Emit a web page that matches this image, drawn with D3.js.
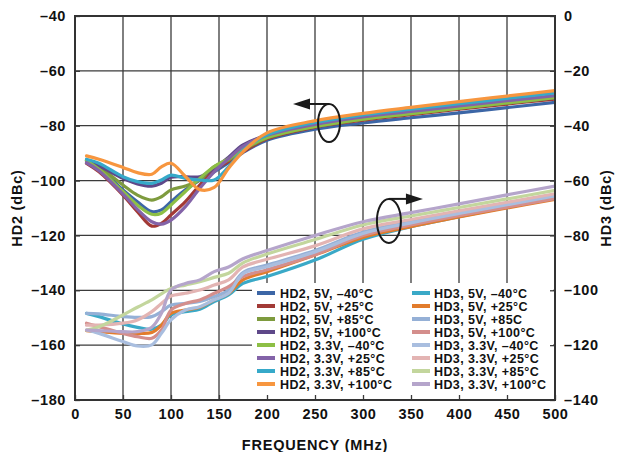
<!DOCTYPE html>
<html><head><meta charset="utf-8">
<script src="https://cdn.jsdelivr.net/npm/d3@7"></script>
<style>
html,body{margin:0;padding:0;background:#fff;}
text{font-family:"Liberation Sans",Arial,Helvetica,sans-serif;font-weight:bold;fill:#111;}
</style></head>
<body><svg id="c" width="619" height="452"></svg>
<script>
// ---------------- DATA ----------------
const freq = [12, 25, 50, 65, 80, 90, 100, 115, 130, 145, 160, 175, 200, 250, 300, 350, 400, 450, 500];

// HD2 (left axis, dBc)
const hd2_5v_m40   = [-92.7, -95.5, -103.4, -107.7, -111.3, -110.7, -107.7, -103.4, -99.8, -96.8, -93.5, -89.8, -85.3, -81.3, -79.0, -77.1, -75.3, -73.4, -71.5];
const hd2_5v_p25   = [-93.7, -96.8, -105.3, -111.3, -116.6, -115.6, -112.5, -107.7, -101.6, -96.1, -93.0, -89.5, -84.8, -80.5, -78.0, -76.0, -74.0, -72.1, -70.3];
const hd2_5v_p85   = [-92.5, -94.9, -101.6, -105.3, -107.1, -105.9, -103.4, -102.0, -99.8, -94.9, -92.5, -89.0, -84.5, -80.3, -77.6, -75.6, -73.6, -71.7, -69.8];
const hd2_5v_p100  = [-93.1, -94.7, -99.2, -101.2, -102.0, -101.0, -98.8, -98.6, -98.6, -95.5, -91.5, -87.0, -83.5, -80.0, -77.4, -75.4, -73.4, -71.6, -69.8];
const hd2_33_m40   = [-92.7, -95.9, -104.0, -108.9, -112.3, -111.9, -108.9, -104.0, -99.2, -94.9, -92.0, -88.5, -84.3, -80.3, -77.6, -75.6, -73.6, -71.7, -69.8];
const hd2_33_p25   = [-93.5, -96.4, -104.9, -110.5, -115.0, -115.9, -114.4, -109.5, -102.8, -96.8, -92.0, -87.5, -83.5, -79.5, -76.8, -74.8, -72.8, -70.9, -69.0];
const hd2_33_p85   = [-92.2, -93.7, -98.6, -100.4, -101.0, -99.8, -98.0, -99.2, -99.8, -99.8, -95.0, -89.0, -83.3, -78.8, -76.1, -74.0, -72.0, -70.0, -68.0];
const hd2_33_p100  = [-91.0, -92.2, -95.2, -97.1, -97.7, -95.0, -93.7, -98.5, -103.3, -102.5, -95.5, -89.5, -82.6, -78.2, -75.5, -73.3, -71.2, -69.2, -67.2];

// HD3 (right axis, dBc)
const hd3_5v_m40   = [-108.4, -109.6, -112.3, -113.5, -114.2, -112.7, -109.0, -107.8, -106.9, -104.1, -101.7, -97.5, -95.0, -89.0, -81.4, -76.8, -73.2, -69.7, -66.3];
const hd3_5v_p25   = [-114.7, -115.1, -115.7, -115.7, -115.4, -112.7, -108.4, -107.2, -106.2, -103.5, -101.1, -96.2, -93.2, -87.1, -80.7, -76.8, -73.3, -70.0, -66.9];
const hd3_5v_p85   = [-108.4, -108.6, -109.6, -109.9, -109.6, -107.8, -105.4, -104.8, -104.1, -102.3, -99.9, -93.5, -90.8, -85.5, -78.8, -75.0, -71.7, -68.5, -65.3];
const hd3_5v_p100  = [-112.0, -113.3, -115.7, -116.9, -117.5, -114.5, -107.2, -104.8, -103.5, -101.1, -98.7, -95.0, -92.5, -87.0, -80.0, -76.2, -72.8, -69.7, -66.6];
const hd3_33_m40   = [-114.5, -115.7, -118.7, -120.3, -119.9, -115.7, -110.8, -107.2, -106.0, -103.5, -101.1, -94.0, -91.4, -86.0, -79.3, -75.4, -72.0, -68.8, -65.6];
const hd3_33_p25   = [-112.7, -112.7, -112.0, -110.8, -107.8, -104.8, -102.1, -101.1, -99.9, -98.1, -96.2, -91.5, -88.7, -83.8, -77.6, -74.2, -71.0, -67.9, -64.8];
const hd3_33_p85   = [-114.5, -113.3, -109.0, -106.2, -103.5, -101.3, -99.3, -98.1, -96.9, -95.3, -93.8, -90.0, -86.8, -81.5, -76.2, -72.9, -69.8, -66.7, -63.6];
const hd3_33_p100  = [-114.5, -114.7, -115.1, -115.1, -113.5, -108.4, -99.9, -97.5, -96.2, -93.2, -91.5, -88.5, -85.5, -80.0, -75.0, -71.7, -68.5, -65.2, -62.0];

const hd2Labels = ["HD2, 5V, \u201340\u00b0C","HD2, 5V, +25\u00b0C","HD2, 5V, +85\u00b0C","HD2, 5V, +100\u00b0C",
                   "HD2, 3.3V, \u201340\u00b0C","HD2, 3.3V, +25\u00b0C","HD2, 3.3V, +85\u00b0C","HD2, 3.3V, +100\u00b0C"];
const hd3Labels = ["HD3, 5V, \u201340\u00b0C","HD3, 5V, +25\u00b0C","HD3, 5V, +85C","HD3, 5V, +100\u00b0C",
                   "HD3, 3.3V, \u201340\u00b0C","HD3, 3.3V, +25\u00b0C","HD3, 3.3V, +85\u00b0C","HD3, 3.3V, +100\u00b0C"];
const hd2Colors = ["#3c66a6","#a23a36","#7e9b3e","#5e4889","#8dbf45","#8363a8","#36a9c9","#f7963f"];
const hd3Colors = ["#3aa9c7","#e27c2c","#95b0d6","#d48e8c","#a9bedf","#e3b4b3","#c3d69d","#b5a5cb"];

const xTicks  = [0,50,100,150,200,250,300,350,400,450,500];
const yLTicks = [-180,-160,-140,-120,-100,-80,-60,-40];
const yRTicks = [-140,-120,-100,-80,-60,-40,-20,0];
const xTitle = "FREQUENCY (MHz)", yLTitle = "HD2 (dBc)", yRTitle = "HD3 (dBc)";
// annotation anchors (data units)
const hd2Note = {f:264.6, v:-79.0};
const hd3Note = {f:327,   v:-74.7};

// ---------------- DRAW ----------------
const hd2 = [hd2_5v_m40,hd2_5v_p25,hd2_5v_p85,hd2_5v_p100,hd2_33_m40,hd2_33_p25,hd2_33_p85,hd2_33_p100];
const hd3 = [hd3_5v_m40,hd3_5v_p25,hd3_5v_p85,hd3_5v_p100,hd3_33_m40,hd3_33_p25,hd3_33_p85,hd3_33_p100];

const L=75,R=555,T=16,B=400;
const svg = d3.select("#c");
const x  = d3.scaleLinear().domain([0,500]).range([L,R]);
const yL = d3.scaleLinear().domain([-180,-40]).range([B,T]);
const yR = d3.scaleLinear().domain([-140,0]).range([B,T]);
const fmt = d => String(d).replace("-","\u2013");

// grid
const grid = svg.append("g").attr("stroke","#3b3b3b").attr("stroke-width",1.3);
grid.selectAll("line.v").data(xTicks.slice(1,-1)).join("line")
  .attr("x1",d=>x(d)).attr("x2",d=>x(d)).attr("y1",T).attr("y2",B);
grid.selectAll("line.h").data(yLTicks.slice(1,-1)).join("line")
  .attr("y1",d=>yL(d)).attr("y2",d=>yL(d)).attr("x1",L).attr("x2",R);

// curves
svg.append("defs").append("clipPath").attr("id","pc").append("rect")
  .attr("x",L).attr("y",T).attr("width",R-L).attr("height",B-T);
const crv = d3.curveCatmullRom.alpha(0.5);
const lineL = d3.line().x((d,i)=>x(freq[i])).y(d=>yL(d)).curve(crv);
const lineR = d3.line().x((d,i)=>x(freq[i])).y(d=>yR(d)).curve(crv);
const cg = svg.append("g").attr("clip-path","url(#pc)").attr("fill","none").attr("stroke-linejoin","round").attr("stroke-linecap","round");
hd3.forEach((s,i)=>cg.append("path").attr("d",lineR(s)).attr("stroke",hd3Colors[i]).attr("stroke-width",3.2));
hd2.forEach((s,i)=>cg.append("path").attr("d",lineL(s)).attr("stroke",hd2Colors[i]).attr("stroke-width",3.2));

// legend
const lg = svg.append("g");
lg.append("rect").attr("x",252).attr("y",283).attr("width",301).attr("height",116).attr("fill","#fff");
const rowY = i => 293 + i*13;
hd2Labels.forEach((t,i)=>{
  lg.append("line").attr("x1",257).attr("x2",275).attr("y1",rowY(i)).attr("y2",rowY(i)).attr("stroke",hd2Colors[i]).attr("stroke-width",4);
  lg.append("text").attr("x",280).attr("y",rowY(i)).attr("dy","0.36em").attr("font-size","12.5px").attr("letter-spacing","0.4px").text(t);
});
hd3Labels.forEach((t,i)=>{
  lg.append("line").attr("x1",412).attr("x2",430).attr("y1",rowY(i)).attr("y2",rowY(i)).attr("stroke",hd3Colors[i]).attr("stroke-width",4);
  lg.append("text").attr("x",434).attr("y",rowY(i)).attr("dy","0.36em").attr("font-size","12.5px").attr("letter-spacing","0.4px").text(t);
});

// axes
const ax = d3.axisBottom(x).tickValues(xTicks).tickSizeInner(-5).tickSizeOuter(0).tickPadding(9).tickFormat(fmt);
const ayl = d3.axisLeft(yL).tickValues(yLTicks).tickSizeInner(-5).tickSizeOuter(0).tickPadding(9).tickFormat(fmt);
const ayr = d3.axisRight(yR).tickValues(yRTicks).tickSizeInner(-5).tickSizeOuter(0).tickPadding(9).tickFormat(fmt);
function style(g){
  g.select(".domain").remove();
  g.selectAll(".tick line").attr("stroke","#3b3b3b").attr("stroke-width",1.3);
  g.selectAll(".tick text").attr("font-size","14.5px").attr("letter-spacing","0.6px")
   .attr("font-family","'Liberation Sans',Arial,sans-serif").attr("font-weight","bold").attr("fill","#111");
}
svg.append("g").attr("transform",`translate(0,${B})`).call(ax).call(style);
svg.append("g").attr("transform",`translate(${L},0)`).call(ayl).call(style);
svg.append("g").attr("transform",`translate(${R},0)`).call(ayr).call(style);

// frame
svg.append("rect").attr("x",L).attr("y",T).attr("width",R-L).attr("height",B-T)
  .attr("fill","none").attr("stroke","#333").attr("stroke-width",2);

// titles
svg.append("text").attr("x",(L+R)/2).attr("y",445).attr("text-anchor","middle").attr("dy","0.36em")
  .attr("font-size","14.5px").attr("letter-spacing","0.8px").text(xTitle);
svg.append("text").attr("transform",`translate(17,${(T+B)/2}) rotate(-90)`).attr("text-anchor","middle").attr("dy","0.36em")
  .attr("font-size","14.5px").attr("letter-spacing","0.8px").text(yLTitle);
svg.append("text").attr("transform",`translate(606,${(T+B)/2}) rotate(-90)`).attr("text-anchor","middle").attr("dy","0.36em")
  .attr("font-size","14.5px").attr("letter-spacing","0.8px").text(yRTitle);

// annotations
const an = svg.append("g").attr("stroke","#1a1a1a").attr("stroke-width",2).attr("fill","none");
{
  const cx=x(hd2Note.f), cy=yL(hd2Note.v), rx=11, ry=19, top=cy-ry;
  an.append("ellipse").attr("cx",cx).attr("cy",cy).attr("rx",rx).attr("ry",ry);
  an.append("line").attr("x1",cx).attr("x2",cx-24).attr("y1",top).attr("y2",top);
  svg.append("path").attr("d",`M${cx-36},${top} L${cx-19},${top-5.5} L${cx-19},${top+5.5} Z`).attr("fill","#1a1a1a");
}
{
  const cx=x(hd3Note.f), cy=yR(hd3Note.v), rx=12, ry=22, top=cy-ry;
  an.append("ellipse").attr("cx",cx).attr("cy",cy).attr("rx",rx).attr("ry",ry);
  an.append("line").attr("x1",cx).attr("x2",cx+22).attr("y1",top).attr("y2",top);
  svg.append("path").attr("d",`M${cx+34},${top} L${cx+17},${top-5.5} L${cx+17},${top+5.5} Z`).attr("fill","#1a1a1a");
}
</script></body></html>
